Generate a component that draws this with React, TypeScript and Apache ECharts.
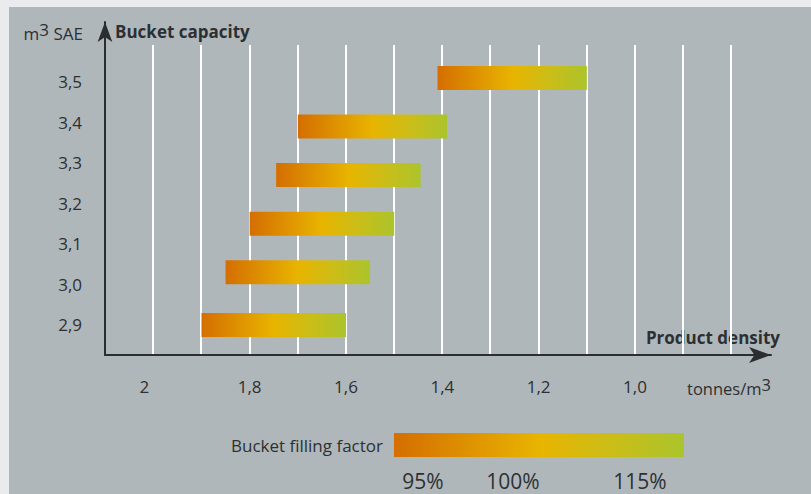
import React, { useEffect, useRef } from "react";
import * as echarts from "echarts";

// Bucket capacity (m3 SAE) of each bar, and its product-density range (tonnes/m3)
const bucketCapacity = [3.51, 3.39, 3.27, 3.15, 3.03, 2.9];
const densityFrom = [1.41, 1.7, 1.745, 1.8, 1.85, 1.9];
const densityTo = [1.1, 1.39, 1.445, 1.5, 1.55, 1.6];

const capacityTicks = [2.9, 3.0, 3.1, 3.2, 3.3, 3.4, 3.5];
const densityTicks = [1.0, 1.2, 1.4, 1.6, 1.8, 2.0];
const fillingFactorLabels = ["95%", "100%", "115%"];

const FONT = "Open Sans";
const TEXT = "#2c3033";
const AXIS = "#2a2e30";

const gradStops = [
  { offset: 0, color: "#d46e00" },
  { offset: 0.25, color: "#de9100" },
  { offset: 0.5, color: "#e8b400" },
  { offset: 0.75, color: "#cbbd18" },
  { offset: 1, color: "#abc42c" },
];

export default function App() {
  const ref = useRef<HTMLDivElement>(null);
  useEffect(() => {
    document.body.style.margin = "0";
    const chart = echarts.init(ref.current!, null, { renderer: "svg" });
    const fmt = (v: number) => v.toFixed(1).replace(".", ",");
    const data = bucketCapacity.map((c, i) => [c, densityFrom[i], densityTo[i]]);
    chart.setOption({
      animation: false,
      backgroundColor: "#e9ebec",
      textStyle: { fontFamily: FONT },
      grid: [
        { left: 105, right: 40, top: 22, bottom: 139 },
        { left: 153, right: 80, top: 45, bottom: 139 },
      ],
      xAxis: [
        {
          type: "value",
          gridIndex: 0,
          min: 0.7177,
          max: 2.1003,
          inverse: true,
          splitLine: { show: false },
          axisTick: { show: false },
          axisLine: {
            show: true,
            symbol: ["none", "arrow"],
            symbolSize: [12, 22],
            lineStyle: { color: AXIS, width: 2 },
          },
          axisLabel: {
            customValues: densityTicks,
            margin: 23,
            fontSize: 17,
            color: TEXT,
            fontFamily: FONT,
            formatter: (v: number) => (Math.abs(v - 2) < 1e-9 ? "{l|2}" : fmt(v)),
            rich: { l: { fontSize: 17, color: TEXT, fontFamily: FONT, padding: [0, 18, 0, 0] } },
          },
        },
        {
          type: "value",
          gridIndex: 1,
          min: 0.8,
          max: 2.0,
          interval: 0.1,
          inverse: true,
          axisLine: { show: false },
          axisTick: { show: false },
          axisLabel: { show: false },
          splitLine: { show: true, lineStyle: { color: "#ffffff", width: 2 } },
        },
      ],
      yAxis: [
        {
          type: "value",
          gridIndex: 0,
          min: 2.8259,
          max: 3.648,
          splitLine: { show: false },
          axisTick: { show: false },
          axisLine: {
            show: true,
            symbol: ["none", "arrow"],
            symbolSize: [11, 20],
            lineStyle: { color: AXIS, width: 2 },
          },
          axisLabel: {
            customValues: capacityTicks,
            margin: 23,
            fontSize: 17,
            color: TEXT,
            fontFamily: FONT,
            formatter: (v: number) => fmt(v),
          },
        },
        {
          type: "value",
          gridIndex: 1,
          show: false,
          splitLine: { show: false },
        },
      ],
      series: [
        {
          type: "custom",
          xAxisIndex: 0,
          yAxisIndex: 0,
          encode: { x: [1, 2], y: 0 },
          data,
          renderItem: (params: any, api: any) => {
            const cap = api.value(0);
            const p1 = api.coord([api.value(1), cap]);
            const p2 = api.coord([api.value(2), cap]);
            const h = 24;
            return {
              type: "rect",
              shape: { x: p1[0], y: p1[1] - h / 2, width: p2[0] - p1[0], height: h },
              style: { fill: new echarts.graphic.LinearGradient(0, 0, 1, 0, gradStops) },
            };
          },
        },
      ],
      graphic: [
        {
          type: "rect",
          z: -10,
          silent: true,
          shape: { x: 9, y: 7, width: 802, height: 487 },
          style: { fill: "#b0b7ba" },
        },
        {
          type: "text",
          x: 83,
          y: 31,
          style: {
            text: "{a|m}{s|3}{a| SAE}",
            align: "right",
            verticalAlign: "middle",
            rich: {
              a: { fontSize: 17, fontFamily: FONT, fill: TEXT, verticalAlign: "bottom", lineHeight: 21 },
              s: { fontSize: 17, fontFamily: FONT, fill: TEXT, verticalAlign: "top", lineHeight: 21 },
            },
          },
        },
        {
          type: "text",
          x: 115,
          y: 31,
          style: {
            text: "Bucket capacity",
            fontSize: 17,
            fontWeight: "bold",
            fontFamily: FONT,
            fill: TEXT,
            align: "left",
            verticalAlign: "middle",
          },
        },
        {
          type: "text",
          x: 780,
          y: 337,
          style: {
            text: "Product density",
            fontSize: 17,
            fontWeight: "bold",
            fontFamily: FONT,
            fill: TEXT,
            align: "right",
            verticalAlign: "middle",
          },
        },
        {
          type: "text",
          x: 687,
          y: 386,
          style: {
            text: "{a|tonnes/m}{s|3}",
            align: "left",
            verticalAlign: "middle",
            rich: {
              a: { fontSize: 16.5, fontFamily: FONT, fill: TEXT, verticalAlign: "bottom", lineHeight: 21 },
              s: { fontSize: 16.5, fontFamily: FONT, fill: TEXT, verticalAlign: "top", lineHeight: 21 },
            },
          },
        },
        {
          type: "text",
          x: 383,
          y: 445,
          style: {
            text: "Bucket filling factor",
            fontSize: 17,
            fontFamily: FONT,
            fill: TEXT,
            align: "right",
            verticalAlign: "middle",
          },
        },
        {
          type: "rect",
          shape: { x: 394, y: 433, width: 290, height: 24 },
          style: { fill: new echarts.graphic.LinearGradient(0, 0, 1, 0, gradStops) },
        },
        ...fillingFactorLabels.map((t, i) => ({
          type: "text",
          x: [423, 513, 640][i],
          y: 481,
          style: {
            text: t,
            fontSize: 21,
            fontFamily: FONT,
            fill: TEXT,
            align: "center",
            verticalAlign: "middle",
          },
        })),
      ],
    });
    return () => chart.dispose();
  }, []);
  return <div ref={ref} style={{ width: 811, height: 494 }} />;
}
